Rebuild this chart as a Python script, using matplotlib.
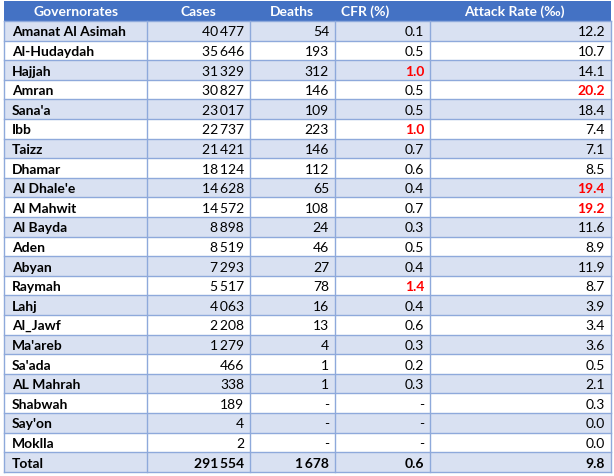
import matplotlib.pyplot as plt
from matplotlib.patches import Rectangle

plt.rcParams['font.family'] = ['Lato', 'DejaVu Sans']

# table data
headers = ['Governorates', 'Cases', 'Deaths', 'CFR (%)', 'Attack Rate (‰)']
governorates = ['Amanat Al Asimah', 'Al-Hudaydah', 'Hajjah', 'Amran', "Sana'a", 'Ibb',
                'Taizz', 'Dhamar', "Al Dhale'e", 'Al Mahwit', 'Al Bayda', 'Aden', 'Abyan',
                'Raymah', 'Lahj', 'Al_Jawf', "Ma'areb", "Sa'ada", 'AL Mahrah', 'Shabwah',
                "Say'on", 'Moklla']
cases = [40477, 35646, 31329, 30827, 23017, 22737, 21421, 18124, 14628, 14572, 8898,
         8519, 7293, 5517, 4063, 2208, 1279, 466, 338, 189, 4, 2]
deaths = [54, 193, 312, 146, 109, 223, 146, 112, 65, 108, 24, 46, 27, 78, 16, 13, 4, 1, 1,
          None, None, None]
cfr = [0.1, 0.5, 1.0, 0.5, 0.5, 1.0, 0.7, 0.6, 0.4, 0.7, 0.3, 0.5, 0.4, 1.4, 0.4, 0.6, 0.3,
       0.2, 0.3, None, None, None]
attack_rate = [12.2, 10.7, 14.1, 20.2, 18.4, 7.4, 7.1, 8.5, 19.4, 19.2, 11.6, 8.9, 11.9, 8.7,
               3.9, 3.4, 3.6, 0.5, 2.1, 0.3, 0.0, 0.0]
total = ['Total', 291554, 1678, 0.6, 9.8]
cfr_high = 1.0
attack_high = 19.0

W, H = 614, 477
col_edges = [4, 147, 250, 335, 430, 611]
top, head_h, row_h = 2, 20, 19.6
header_x = [76, 198, 292, 365, 514]

blue = '#4472C4'
light = '#D9E1F2'
grid = '#8EA9DB'
red = '#FF0000'
fs = 10


def fmt_int(v):
    if v is None:
        return '-'
    return f'{v:,}'.replace(',', '\u2009')


def fmt_dec(v):
    if v is None:
        return '-'
    return f'{v:.1f}'


fig = plt.figure(figsize=(W / 100, H / 100), dpi=100)
ax = fig.add_axes([0, 0, 1, 1])
ax.set_xlim(0, W)
ax.set_ylim(H, 0)
ax.axis('off')

# header
ax.add_patch(Rectangle((col_edges[0], top), col_edges[-1] - col_edges[0], head_h,
                       facecolor=blue, edgecolor='none'))
for x, h in zip(header_x, headers):
    ax.text(x, top + head_h / 2, h, color='white', fontsize=fs, fontweight='bold',
            ha='center', va='center')

rows = []
for i in range(len(governorates)):
    rows.append((governorates[i], fmt_int(cases[i]), fmt_int(deaths[i]), fmt_dec(cfr[i]),
                 fmt_dec(attack_rate[i]),
                 cfr[i] is not None and cfr[i] >= cfr_high,
                 attack_rate[i] >= attack_high, False))
rows.append((total[0], fmt_int(total[1]), fmt_int(total[2]), fmt_dec(total[3]),
             fmt_dec(total[4]), False, False, True))

y0 = top + head_h
for i, r in enumerate(rows):
    y = y0 + i * row_h
    fc = light if i % 2 == 0 else 'white'
    ax.add_patch(Rectangle((col_edges[0], y), col_edges[-1] - col_edges[0], row_h,
                           facecolor=fc, edgecolor='none'))
    yc = y + row_h / 2 + 0.5
    name, c, d, f, a, f_red, a_red, bold = r
    ax.text(col_edges[0] + 8, yc, name, fontsize=fs, fontweight='bold', ha='left', va='center')
    w = 'bold' if bold else 'normal'
    ax.text(col_edges[2] - 6, yc, c, fontsize=fs, fontweight=w, ha='right', va='center')
    ax.text(col_edges[3] - 6, yc, d, fontsize=fs, fontweight=w, ha='right', va='center')
    ax.text(col_edges[4] - 6, yc, f, fontsize=fs, ha='right', va='center',
            fontweight='bold' if (bold or f_red) else 'normal',
            color=red if f_red else 'black')
    ax.text(col_edges[5] - 6, yc, a, fontsize=fs, ha='right', va='center',
            fontweight='bold' if (bold or a_red) else 'normal',
            color=red if a_red else 'black')

# grid lines
y_end = y0 + len(rows) * row_h
for i in range(len(rows) + 1):
    y = y0 + i * row_h
    ax.plot([col_edges[0], col_edges[-1]], [y, y], color=grid, lw=1)
for x in col_edges:
    ax.plot([x, x], [y0, y_end], color=grid, lw=1)

fig.savefig('out.png', dpi=100)
